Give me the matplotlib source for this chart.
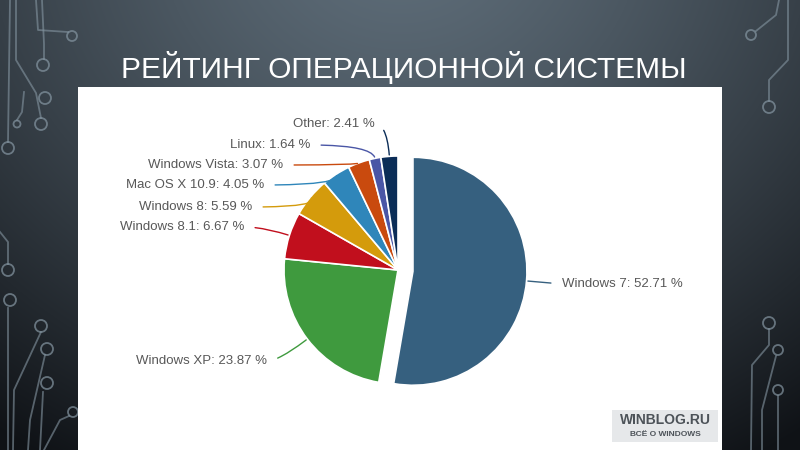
import numpy as np
import matplotlib.pyplot as plt
from matplotlib.colors import to_rgb
from matplotlib.patches import Rectangle, Circle

labels = ['Windows 7', 'Windows XP', 'Windows 8.1', 'Windows 8',
          'Mac OS X 10.9', 'Windows Vista', 'Linux', 'Other']
shares = [52.71, 23.87, 6.67, 5.59, 4.05, 3.07, 1.64, 2.41]
colors = ['#36607f', '#3f9a3e', '#c10f1d', '#d49b0c',
          '#2f86ba', '#c94a0e', '#4a56a6', '#0b2d57']
title = 'РЕЙТИНГ ОПЕРАЦИОННОЙ СИСТЕМЫ'

# where the label text sits (pixels, y up)
label_pos = [(562, 166), (267, 89), (244, 223), (252, 243),
             (264, 265), (283, 285), (310, 305), (375, 326)]

W, H = 800, 450
fig = plt.figure(figsize=(8, 4.5), dpi=100)
ax = fig.add_axes([0, 0, 1, 1])

# slide background: dark slate with a lighter glow at the top
yy, xx = np.mgrid[0:H, 0:W]
d = np.sqrt((xx - 400) ** 2 + (yy - 520) ** 2 * 1.3)
t = np.clip(d / 700, 0, 1)[..., None] ** 1.3
light = np.array(to_rgb('#5f6e7a'))
dark = np.array(to_rgb('#0f1216'))
bg = light * (1 - t) + dark * t
ax.imshow(bg, extent=[0, W, 0, H], origin='lower', zorder=0)

# circuit-like decoration on the sides (image coords, y down)
deco = '#8596a2'
paths = [
    [(8, 450), (8, 308)], [(13, 450), (14, 390), (41, 332)],
    [(40, 450), (43, 392)], [(44, 450), (60, 420), (69, 416)],
    [(28, 450), (30, 420), (45, 355)],
    [(0, 232), (8, 242), (8, 264)],
    [(16, 0), (16, 60), (36, 93), (41, 118)], [(10, 0), (8, 142)],
    [(42, 0), (44, 44), (44, 59)], [(36, 0), (38, 30), (68, 32)],
    [(17, 120), (22, 112), (24, 92)],
    [(751, 450), (752, 365), (769, 345), (769, 329)],
    [(762, 450), (762, 410), (776, 356)], [(778, 450), (778, 396)],
    [(779, 0), (776, 15), (756, 31)],
    [(788, 0), (788, 60), (769, 80), (769, 101)],
]
for p in paths:
    px, py = zip(*p)
    ax.plot(px, [H - v for v in py], color=deco, lw=1.3, alpha=0.6, zorder=1)
for cx, cy, r in [(8, 148, 6), (41, 124, 6), (17, 124, 3.5), (45, 98, 6),
                  (43, 65, 6), (72, 36, 5), (8, 270, 6), (10, 300, 6),
                  (41, 326, 6), (47, 349, 6), (47, 383, 6), (73, 412, 5),
                  (751, 35, 5), (769, 107, 6), (769, 323, 6), (778, 350, 5),
                  (778, 390, 5)]:
    ax.add_patch(Circle((cx, H - cy), r, fill=False, ec=deco, lw=1.3,
                        alpha=0.7, zorder=1))

# white panel with the chart
ax.add_patch(Rectangle((78, 0), 644, H - 87, fc='white', ec='none', zorder=2))

ax.text(404, 382, title, color='white', fontsize=21.5, ha='center',
        va='center', family='Liberation Sans', zorder=3)

explode = [15] + [0] * (len(shares) - 1)
wedges, _ = ax.pie(shares, colors=colors, startangle=90, counterclock=False,
                   center=(398, 180), radius=114, explode=explode,
                   wedgeprops=dict(edgecolor='white', linewidth=1.2),
                   frame=True)
ax.set_xlim(0, W)
ax.set_ylim(0, H)
ax.set_aspect('equal')
ax.axis('off')
for w in wedges:
    w.set_zorder(3)

for w, lab, val, col, (lx, ly) in zip(wedges, labels, shares, colors, label_pos):
    mid = (w.theta1 + w.theta2) / 2
    cx, cy = w.center
    ex = cx + w.r * np.cos(np.radians(mid))
    ey = cy + w.r * np.sin(np.radians(mid))
    right = lx > 400
    if right:
        style = 'arc3,rad=0'
    else:
        style = f'angle3,angleA=0,angleB={mid}'
    ax.annotate(f'{lab}: {val:.2f} %', xy=(ex, ey), xytext=(lx, ly),
                ha='left' if right else 'right', va='center',
                fontsize=9.5, color='#585858', family='Liberation Sans',
                zorder=4,
                arrowprops=dict(arrowstyle='-', color=col, lw=1,
                                connectionstyle=style,
                                relpos=(0, 0.5) if right else (1, 0.5),
                                shrinkA=6, shrinkB=1))

# watermark
ax.add_patch(Rectangle((612, 8), 106, 32, fc='#e6e8ea', ec='none', zorder=4))
ax.text(665, 30, 'WINBLOG.RU', ha='center', va='center', fontsize=10,
        fontweight='bold', color='#4d5359', family='Liberation Sans', zorder=5)
ax.text(665, 16, 'ВСЁ О WINDOWS', ha='center', va='center', fontsize=6,
        fontweight='bold', color='#4d5359', family='Liberation Sans', zorder=5)

fig.savefig('out.png', dpi=100)
